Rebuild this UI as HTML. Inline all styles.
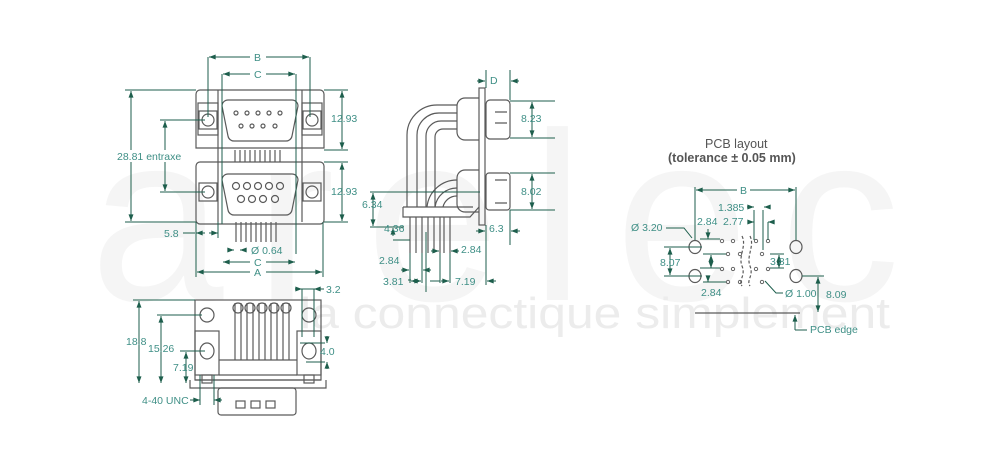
<!DOCTYPE html>
<html><head><meta charset="utf-8"><style>
html,body{margin:0;padding:0;background:#fff;}
svg{display:block;font-family:"Liberation Sans",sans-serif;}
.o{fill:none;stroke:#5a5a5a;stroke-width:1.2}
.d{fill:none;stroke:#1d5e4c;stroke-width:1}
.t{fill:#3f8f86;font-size:10.5px}
.wm{fill:#f5f5f5}
</style></head><body>
<svg width="988" height="469" viewBox="0 0 988 469">
<defs><marker id="a" viewBox="0 0 8 6" refX="8" refY="3" markerWidth="7" markerHeight="5" orient="auto-start-reverse"><path d="M0,0L8,3L0,6z" fill="#1d5e4c"/></marker></defs>
<!-- watermark -->
<text x="90" y="300" class="wm" font-size="240" textLength="810" lengthAdjust="spacing">arelec</text>
<text x="300" y="328" fill="#ececec" font-size="44" textLength="590" lengthAdjust="spacingAndGlyphs">la connectique simplement</text>

<!-- FRONT VIEW -->
<g class="o">
<path d="M200,90h120a4,4 0 0 1 4,4v54h-128v-54a4,4 0 0 1 4,-4z"/>
<path d="M200,162h120a4,4 0 0 1 4,4v54a4,4 0 0 1 -4,4h-120a4,4 0 0 1 -4,-4v-54a4,4 0 0 1 4,-4z"/>
<rect x="198" y="103" width="20" height="32"/><rect x="302" y="103" width="20" height="32"/>
<rect x="199" y="111" width="18" height="18"/><circle cx="208" cy="120" r="6"/>
<rect x="303" y="111" width="18" height="18"/><circle cx="312" cy="120" r="6"/>
<rect x="199" y="183" width="18" height="18"/><circle cx="208" cy="192" r="6"/>
<rect x="303" y="183" width="18" height="18"/><circle cx="312" cy="192" r="6"/>
<path d="M228,100h64a6,6 0 0 1 6,6l-6,30a6,6 0 0 1 -6,5h-52a6,6 0 0 1 -6,-5l-6,-30a6,6 0 0 1 6,-6z"/>
<path d="M228,174h64a6,6 0 0 1 6,6l-6,30a6,6 0 0 1 -6,5h-52a6,6 0 0 1 -6,-5l-6,-30a6,6 0 0 1 6,-6z"/>
<circle cx="236" cy="113" r="2"/><circle cx="247" cy="113" r="2"/><circle cx="258" cy="113" r="2"/><circle cx="269" cy="113" r="2"/><circle cx="280" cy="113" r="2"/>
<circle cx="241" cy="126" r="2"/><circle cx="252" cy="126" r="2"/><circle cx="263" cy="126" r="2"/><circle cx="275" cy="126" r="2"/>
<circle cx="236" cy="186" r="3.5"/><circle cx="247" cy="186" r="3.5"/><circle cx="258" cy="186" r="3.5"/><circle cx="269" cy="186" r="3.5"/><circle cx="280" cy="186" r="3.5"/>
<circle cx="241" cy="199" r="3.5"/><circle cx="252" cy="199" r="3.5"/><circle cx="263" cy="199" r="3.5"/><circle cx="275" cy="199" r="3.5"/>
<path d="M235,150v12M240,150v12M245,150v12M250,150v12M255,150v12M260,150v12M265,150v12M270,150v12M275,150v12M280,150v12"/>
<path d="M236,222v20M241,222v20M246,222v20M251,222v20M256,222v20M261,222v20M266,222v20M271,222v20M276,222v20"/>
<path d="M218,90v132M302,90v132"/>
</g>
<g class="d">
<path d="M208,57v60M310,57v60M222,74v150M296,74v180"/>
<line x1="209" y1="57" x2="309" y2="57" marker-start="url(#a)" marker-end="url(#a)"/>
<line x1="223" y1="74" x2="295" y2="74" marker-start="url(#a)" marker-end="url(#a)"/>
<path d="M125,90h71M125,222h71M324,90h24M324,150h24M324,162h24M324,222h24M160,120h45M160,192h45"/>
<line x1="131" y1="91" x2="131" y2="221" marker-start="url(#a)" marker-end="url(#a)"/>
<line x1="342" y1="91" x2="342" y2="149" marker-start="url(#a)" marker-end="url(#a)"/>
<line x1="342" y1="163" x2="342" y2="221" marker-start="url(#a)" marker-end="url(#a)"/>
<line x1="165" y1="121" x2="165" y2="191" marker-start="url(#a)" marker-end="url(#a)"/>
<path d="M196,222v55M323,222v55M218,222v16"/>
<path d="M183,233h12"/><line x1="205" y1="233" x2="196" y2="233" marker-end="url(#a)"/><line x1="209" y1="233" x2="218" y2="233" marker-end="url(#a)"/>
<line x1="229" y1="250" x2="234" y2="250" marker-end="url(#a)"/><line x1="245" y1="250" x2="240" y2="250" marker-end="url(#a)"/>
<line x1="223" y1="262" x2="295" y2="262" marker-start="url(#a)" marker-end="url(#a)"/>
<line x1="197" y1="272" x2="322" y2="272" marker-start="url(#a)" marker-end="url(#a)"/>
</g>
<g class="t">
<rect x="250" y="52" width="16" height="10" fill="#fff"/><text x="254" y="61">B</text>
<rect x="250" y="69" width="16" height="10" fill="#fff"/><text x="254" y="78">C</text>
<rect x="116" y="150" width="70" height="12" fill="#fff"/><text x="117" y="160">28.81  entraxe</text>
<text x="331" y="122">12.93</text><text x="331" y="195">12.93</text>
<text x="164" y="237">5.8</text><text x="251" y="254">Ø 0.64</text>
<rect x="250" y="257" width="16" height="10" fill="#fff"/><text x="254" y="266">C</text>
<rect x="250" y="267" width="16" height="10" fill="#fff"/><text x="254" y="276">A</text>
</g>

<!-- SIDE VIEW -->
<g class="o">
<rect x="479" y="88" width="6" height="137"/>
<rect x="486" y="100" width="24" height="39" rx="4"/>
<rect x="486" y="173" width="24" height="37" rx="3"/>
<path d="M479,98h-14a8,8 0 0 0 -8,8v26a8,8 0 0 0 8,8h14"/>
<path d="M479,170h-14a8,8 0 0 0 -8,8v26a8,8 0 0 0 8,8h14"/>
<path d="M457,105h-20a30,30 0 0 0 -30,30v72M457,113h-18a22,22 0 0 0 -22,22v72M457,121h-16a15,15 0 0 0 -15,15v71M457,129h-14a8,8 0 0 0 -8,8v70"/>
<path d="M457,180a30,30 0 0 0 -30,27M457,188a22,22 0 0 0 -22,19M457,196a14,14 0 0 0 -14,11"/>
<path d="M403,207h70M403,207v10h67l9,-10M410,217v36M416,217v36M434,217v36M440,217v36M444,217v36M450,217v36M422,217v36M428,217v36"/>
<path d="M495,112h12M495,123h12M495,180h12M495,203h12"/>
</g>
<g class="d">
<path d="M486,70v18M510,70v30M510,101h45M510,138h45M510,173h45M510,210h45M370,192h110M370,227h34M486,225v45M510,210v35M426,232v60"/>
<line x1="477" y1="81" x2="485" y2="81" marker-end="url(#a)"/><line x1="519" y1="81" x2="511" y2="81" marker-end="url(#a)"/>
<line x1="532" y1="102" x2="532" y2="137" marker-start="url(#a)" marker-end="url(#a)"/>
<line x1="532" y1="174" x2="532" y2="209" marker-start="url(#a)" marker-end="url(#a)"/>
<line x1="373" y1="193" x2="373" y2="226" marker-start="url(#a)" marker-end="url(#a)"/>
<line x1="393" y1="236" x2="393" y2="228" marker-end="url(#a)"/><path d="M393,240h17M410,253v30M422,253v30M440,253v30M450,253v30M486,270v15"/>
<line x1="401" y1="270" x2="409" y2="270" marker-end="url(#a)"/><line x1="431" y1="270" x2="423" y2="270" marker-end="url(#a)"/>
<line x1="431" y1="251" x2="439" y2="251" marker-end="url(#a)"/><line x1="459" y1="251" x2="451" y2="251" marker-end="url(#a)"/>
<line x1="476" y1="231" x2="485" y2="231" marker-end="url(#a)"/><line x1="520" y1="231" x2="511" y2="231" marker-end="url(#a)"/>
<path d="M408,280h3"/><line x1="411" y1="281" x2="421" y2="281" marker-start="url(#a)" marker-end="url(#a)"/>
<line x1="441" y1="281" x2="449" y2="281" marker-end="url(#a)"/><line x1="496" y1="281" x2="487" y2="281" marker-end="url(#a)"/>
<path d="M430,281h10"/>
</g>
<g class="t">
<text x="490" y="84">D</text><text x="521" y="122">8.23</text><text x="521" y="195">8.02</text>
<text x="362" y="208">6.34</text><text x="384" y="232">4.36</text><text x="461" y="253">2.84</text>
<text x="379" y="264">2.84</text><text x="489" y="232">6.3</text>
<text x="383" y="285">3.81</text><text x="455" y="285">7.19</text>
</g>

<!-- BOTTOM VIEW -->
<g class="o">
<rect x="195" y="300" width="126" height="80"/>
<rect x="195" y="331" width="24" height="44"/><rect x="297" y="331" width="24" height="44"/>
<circle cx="207" cy="315" r="7"/><circle cx="309" cy="315" r="7"/>
<ellipse cx="207" cy="351" rx="7" ry="8"/><ellipse cx="309" cy="351" rx="7" ry="8"/>
<path d="M219,360h78M219,375h78M195,380h126M190,380v8h136v-8"/>
<rect x="218" y="388" width="78" height="27" rx="3"/>
<rect x="236" y="401" width="9" height="7"/><rect x="251" y="401" width="9" height="7"/><rect x="266" y="401" width="9" height="7"/>
<path d="M235,303v57M241,303v57M247,303v57M253,303v57M259,303v57M265,303v57M271,303v57M277,303v57M283,303v57M289,303v57"/>
<circle cx="238" cy="308" r="5"/><circle cx="250" cy="308" r="5"/><circle cx="262" cy="308" r="5"/><circle cx="274" cy="308" r="5"/><circle cx="286" cy="308" r="5"/>
<rect x="202" y="375" width="10" height="8"/><rect x="304" y="375" width="10" height="8"/>
</g>
<g class="d">
<path d="M133,300h62M157,315h45M180,351h25M302,289h22M300,343h25M306,362h19M302,289v48M314,289v48M200,375v30M214,375v30"/>
<line x1="139" y1="301" x2="139" y2="383" marker-start="url(#a)" marker-end="url(#a)"/>
<line x1="161" y1="316" x2="161" y2="383" marker-start="url(#a)" marker-end="url(#a)"/>
<line x1="186" y1="352" x2="186" y2="383" marker-start="url(#a)" marker-end="url(#a)"/>
<line x1="295" y1="289" x2="302" y2="289" marker-end="url(#a)"/><line x1="321" y1="289" x2="314" y2="289" marker-end="url(#a)"/>
<line x1="327" y1="336" x2="327" y2="343" marker-end="url(#a)"/><line x1="327" y1="369" x2="327" y2="362" marker-end="url(#a)"/>
<line x1="190" y1="400" x2="200" y2="400" marker-end="url(#a)"/><line x1="222" y1="400" x2="214" y2="400" marker-end="url(#a)"/>
</g>
<g class="t">
<text x="326" y="293">3.2</text><text x="126" y="345">18.8</text><text x="148" y="352">15.26</text>
<text x="173" y="371">7.19</text><text x="320" y="355">4.0</text><text x="142" y="404">4-40 UNC</text>
</g>

<!-- PCB LAYOUT -->
<text x="705" y="148" fill="#555" font-size="12.5">PCB layout</text>
<text x="668" y="162" fill="#555" font-size="12.5" font-weight="bold">(tolerance ± 0.05 mm)</text>
<g class="o" stroke-width="1">
<ellipse cx="695" cy="247" rx="6" ry="6.5"/><ellipse cx="796" cy="247" rx="6" ry="6.5"/>
<ellipse cx="695" cy="276" rx="6" ry="6.5"/><ellipse cx="796" cy="276" rx="6" ry="6.5"/>
<g stroke-width="0.9"><circle cx="722" cy="241" r="1.7"/><circle cx="733" cy="241" r="1.7"/><circle cx="756" cy="241" r="1.7"/><circle cx="768" cy="241" r="1.7"/>
<circle cx="728" cy="254" r="1.7"/><circle cx="740" cy="254" r="1.7"/><circle cx="762" cy="254" r="1.7"/>
<circle cx="722" cy="269" r="1.7"/><circle cx="733" cy="269" r="1.7"/><circle cx="756" cy="269" r="1.7"/><circle cx="768" cy="269" r="1.7"/>
<circle cx="728" cy="282" r="1.7"/><circle cx="740" cy="282" r="1.7"/><circle cx="762" cy="282" r="1.7"/></g>
<path d="M742,236c5,10 -4,20 0,30c4,10 -4,14 0,20M750,236c5,10 -4,20 0,30c4,10 -4,14 0,20" stroke-dasharray="3,2"/>
<path d="M695,313h105"/>
</g>
<g class="d">
<path d="M695,187v53M796,187v53M754,210v30M763,210v40M702,247h-15M687,276h15M700,239h20M703,254h23M700,268h20M703,282h23M802,276h22M770,254h14M770,268h14"/>
<line x1="696" y1="190" x2="795" y2="190" marker-start="url(#a)" marker-end="url(#a)"/>
<line x1="747" y1="207" x2="754" y2="207" marker-end="url(#a)"/><line x1="770" y1="207" x2="764" y2="207" marker-end="url(#a)"/>
<line x1="749" y1="222" x2="754" y2="222" marker-end="url(#a)"/><line x1="773" y1="222" x2="768" y2="222" marker-end="url(#a)"/><path d="M768,222v18"/>
<line x1="708" y1="229" x2="708" y2="239" marker-end="url(#a)"/><line x1="708" y1="276" x2="708" y2="282" marker-end="url(#a)"/>
<line x1="711" y1="262" x2="711" y2="255" marker-end="url(#a)"/><line x1="711" y1="262" x2="711" y2="268" marker-end="url(#a)"/>
<line x1="670" y1="248" x2="670" y2="275" marker-start="url(#a)" marker-end="url(#a)"/><path d="M664,247h26M664,276h26"/>
<line x1="779" y1="259" x2="779" y2="255" marker-end="url(#a)"/><line x1="779" y1="263" x2="779" y2="268" marker-end="url(#a)"/>
<line x1="818" y1="277" x2="818" y2="312" marker-start="url(#a)" marker-end="url(#a)"/>
<path d="M666,228h18l8,10"/><path d="M783,293h-7l-11,-12"/>
<line x1="795" y1="330" x2="795" y2="315" marker-end="url(#a)"/><path d="M795,330h12"/>
</g>
<g class="t">
<rect x="737" y="185" width="13" height="10" fill="#fff"/><text x="740" y="194">B</text>
<text x="718" y="211">1.385</text><text x="697" y="225">2.84</text><text x="723" y="225">2.77</text>
<text x="631" y="231">Ø 3.20</text><text x="660" y="266">8.07</text><text x="770" y="265">3.81</text>
<text x="701" y="296">2.84</text><text x="785" y="297">Ø 1.00</text><text x="826" y="298">8.09</text>
<text x="810" y="333">PCB edge</text>
</g>
</svg>
</body></html>
